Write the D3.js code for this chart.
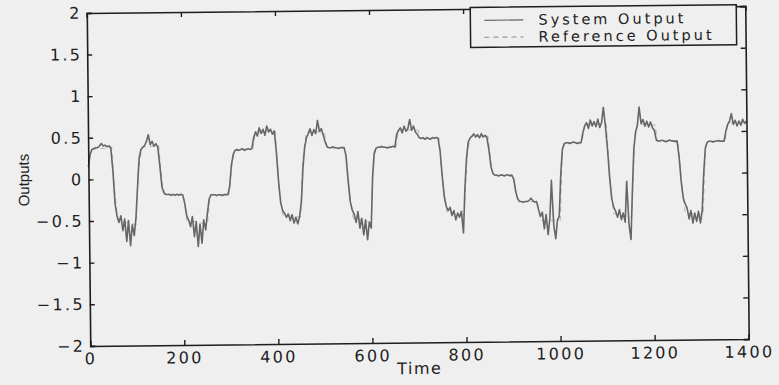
<!DOCTYPE html>
<html>
<head>
<meta charset="utf-8">
<script src="https://cdn.jsdelivr.net/npm/d3@7"></script>
<style>
  body { margin: 0; background: #efefef; }
  svg { display: block; }
  .tick text { font-family: "DejaVu Sans", sans-serif; font-size: 16px; letter-spacing: 2.3px; fill: #222; }
</style>
</head>
<body>
<div id="chart"></div>
<script>
// [time, output]
var systemOutput = [
  [0,0.15],[4,0.30],[8,0.36],[12,0.37],[16,0.38],[20,0.38],[24,0.40],[28,0.43],[32,0.40],[36,0.41],[40,0.39],[44,0.40],[48,0.38],
  [52,0.10],[56,-0.30],[60,-0.45],
  [64,-0.52],[68,-0.44],[72,-0.62],[76,-0.48],[80,-0.75],[84,-0.50],[88,-0.80],[92,-0.55],[96,-0.68],[100,-0.47],
  [104,-0.10],[108,0.25],[112,0.35],[116,0.38],[120,0.40],[124,0.45],[128,0.53],[132,0.41],[136,0.45],[140,0.39],[144,0.42],[148,0.38],
  [152,0.15],[156,-0.10],[160,-0.17],[164,-0.19],[168,-0.19],[172,-0.19],[176,-0.20],[180,-0.19],[184,-0.20],[188,-0.19],[192,-0.20],[196,-0.19],[200,-0.20],
  [204,-0.30],[208,-0.45],
  [212,-0.50],[216,-0.58],[220,-0.46],[224,-0.70],[228,-0.52],[232,-0.82],[236,-0.55],[240,-0.78],[244,-0.50],[248,-0.62],[252,-0.42],
  [256,-0.25],[260,-0.20],[264,-0.20],[268,-0.20],[272,-0.21],[276,-0.20],[280,-0.20],[284,-0.21],[288,-0.20],[292,-0.20],[296,-0.20],
  [300,-0.10],[304,0.15],[308,0.28],[312,0.33],[316,0.34],[320,0.33],[324,0.34],[328,0.35],[332,0.33],[336,0.34],[340,0.35],[344,0.34],[348,0.35],
  [352,0.48],[356,0.55],[360,0.50],[364,0.60],[368,0.53],[372,0.58],[376,0.51],[380,0.62],[384,0.55],[388,0.58],[392,0.52],[396,0.56],
  [400,0.30],[404,-0.05],[408,-0.30],[412,-0.40],
  [416,-0.43],[420,-0.48],[424,-0.44],[428,-0.52],[432,-0.45],[436,-0.55],[440,-0.48],[444,-0.56],[448,-0.47],
  [452,-0.30],[456,0.10],[460,0.35],[464,0.47],[468,0.52],[472,0.58],[476,0.50],[480,0.57],[484,0.52],[488,0.68],[492,0.55],[496,0.58],[500,0.50],
  [504,0.42],[508,0.36],[512,0.35],[516,0.35],[520,0.36],[524,0.35],[528,0.35],[532,0.34],[536,0.35],[540,0.35],[544,0.35],
  [548,0.25],[552,-0.05],[556,-0.30],[560,-0.40],
  [564,-0.45],[568,-0.55],[572,-0.42],[576,-0.62],[580,-0.50],[584,-0.70],[588,-0.52],[592,-0.76],[596,-0.55],[600,-0.62],
  [604,0.00],[608,0.28],[612,0.34],[616,0.35],[620,0.35],[624,0.36],[628,0.35],[632,0.35],[636,0.34],[640,0.35],[644,0.35],[648,0.36],[652,0.35],
  [656,0.50],[660,0.55],[664,0.58],[668,0.52],[672,0.60],[676,0.54],[680,0.57],[684,0.68],[688,0.55],[692,0.60],[696,0.53],[700,0.50],
  [704,0.46],[708,0.45],[712,0.46],[716,0.44],[720,0.46],[724,0.45],[728,0.44],[732,0.46],[736,0.45],[740,0.46],[744,0.45],
  [748,0.30],[752,0.00],[756,-0.25],[760,-0.37],
  [764,-0.42],[768,-0.38],[772,-0.48],[776,-0.42],[780,-0.53],[784,-0.45],[788,-0.50],[792,-0.43],[796,-0.69],
  [800,-0.15],[804,0.20],[808,0.40],[812,0.45],[816,0.47],[820,0.50],[824,0.46],[828,0.49],[832,0.45],[836,0.50],[840,0.46],[844,0.48],[848,0.45],
  [852,0.30],[856,0.10],[860,0.02],[864,0.00],[868,0.00],[872,-0.01],[876,0.00],[880,0.00],[884,-0.01],[888,0.00],[892,0.00],[896,-0.01],[900,0.00],
  [904,-0.05],[908,-0.20],[912,-0.29],[916,-0.32],[920,-0.32],[924,-0.33],[928,-0.32],[932,-0.32],[936,-0.31],[940,-0.28],[944,-0.31],[948,-0.33],[952,-0.32],
  [956,-0.42],[960,-0.50],
  [964,-0.45],[968,-0.65],[972,-0.48],[976,-0.72],[980,-0.52],[984,-0.07],[988,-0.60],[992,-0.77],[996,-0.55],[1000,-0.50],
  [1004,0.00],[1008,0.30],[1012,0.37],[1016,0.38],[1020,0.38],[1024,0.37],[1028,0.38],[1032,0.39],[1036,0.38],[1040,0.37],[1044,0.38],[1048,0.38],
  [1052,0.50],[1056,0.58],[1060,0.62],[1064,0.55],[1068,0.65],[1072,0.58],[1076,0.63],[1080,0.57],[1084,0.66],[1088,0.56],[1092,0.62],[1096,0.80],[1100,0.58],
  [1104,0.30],[1108,-0.05],[1112,-0.30],[1116,-0.40],
  [1120,-0.45],[1124,-0.52],[1128,-0.43],[1132,-0.55],[1136,-0.47],[1140,-0.58],[1144,-0.09],[1148,-0.60],[1152,-0.79],
  [1156,-0.20],[1160,0.30],[1164,0.50],[1168,0.58],[1172,0.80],[1176,0.60],[1180,0.65],[1184,0.57],[1188,0.63],[1192,0.56],[1196,0.62],[1200,0.55],[1204,0.52],
  [1208,0.40],[1212,0.39],[1216,0.39],[1220,0.40],[1224,0.39],[1228,0.38],[1232,0.39],[1236,0.40],[1240,0.39],[1244,0.39],[1248,0.38],[1252,0.39],
  [1256,0.20],[1260,-0.10],[1264,-0.30],[1268,-0.37],
  [1272,-0.42],[1276,-0.55],[1280,-0.45],[1284,-0.60],[1288,-0.48],[1292,-0.58],[1296,-0.46],[1300,-0.60],[1304,-0.45],
  [1308,0.00],[1312,0.30],[1316,0.37],[1320,0.38],[1324,0.38],[1328,0.37],[1332,0.38],[1336,0.38],[1340,0.39],[1344,0.38],[1348,0.38],[1352,0.38],
  [1356,0.50],[1360,0.58],[1364,0.62],[1368,0.71],[1372,0.58],[1376,0.63],[1380,0.56],[1384,0.62],[1388,0.57],[1392,0.64],[1396,0.59],[1400,0.62]
]

// the reference is the clean staircase hidden under the noisy output
var referenceOutput = [
  [0,0.15],[6,0.36],[50,0.38],[56,-0.2],[62,-0.5],[100,-0.55],[106,0.1],[114,0.38],[150,0.4],[156,-0.05],[162,-0.19],
  [202,-0.2],[208,-0.5],[252,-0.55],[258,-0.2],[298,-0.2],[306,0.2],[312,0.33],[350,0.35],[356,0.55],[398,0.55],
  [406,-0.2],[412,-0.45],[450,-0.48],[456,0.2],[464,0.54],[502,0.54],[508,0.36],[546,0.35],[554,-0.2],[562,-0.5],
  [600,-0.55],[606,0.2],[612,0.35],[654,0.35],[660,0.56],[702,0.55],[706,0.45],[746,0.45],[754,-0.2],[762,-0.45],
  [798,-0.47],[806,0.3],[814,0.47],[850,0.47],[858,0.05],[862,0],[902,0],[910,-0.25],[916,-0.32],[954,-0.32],
  [960,-0.55],[1002,-0.55],[1008,0.3],[1014,0.38],[1050,0.38],[1056,0.6],[1102,0.6],[1110,-0.2],[1116,-0.48],
  [1154,-0.52],[1162,0.4],[1168,0.6],[1206,0.58],[1210,0.39],[1254,0.39],[1262,-0.2],[1268,-0.48],[1306,-0.5],
  [1312,0.3],[1318,0.38],[1354,0.38],[1360,0.6],[1400,0.6]
]

var xTicks = [0, 200, 400, 600, 800, 1000, 1200, 1400]
var yTicks = [-2, -1.5, -1, -0.5, 0, 0.5, 1, 1.5, 2]
var legendLabels = ["System Output", "Reference Output"]

var width = 779, height = 385
var margin = {left: 88.5, right: 32, top: 9.5, bottom: 42.5}

var svg = d3.select("#chart")
    .append("svg")
    .attr("width", width)
    .attr("height", height)

// the scan is tilted a little, so tilt the whole figure
var fig = svg.append("g")
    .attr("transform", "rotate(-0.6, 417, 176)")

var x = d3.scaleLinear()
    .domain([0, 1400])
    .range([margin.left, width - margin.right])
var y = d3.scaleLinear()
    .domain([-2, 2])
    .range([height - margin.bottom, margin.top])

var fmt = (d) => {return (d < 0 ? "\u2212" : "") + Math.abs(d)}

var line = d3.line()
    .x((d) => {return x(d[0])})
    .y((d) => {return y(d[1])})

fig.append("path")
    .datum(referenceOutput)
    .attr("fill", "none")
    .attr("stroke", "#b4b4b4")
    .attr("stroke-width", 1)
    .attr("stroke-dasharray", "5,4")
    .attr("d", line)

fig.append("path")
    .datum(systemOutput)
    .attr("fill", "none")
    .attr("stroke", "#666")
    .attr("stroke-width", 1.6)
    .attr("stroke-linejoin", "round")
    .attr("d", line)

// box axes, MATLAB style ticks pointing in
fig.append("g")
    .attr("transform", "translate(0," + y(-2) + ")")
    .call(d3.axisBottom(x).tickValues(xTicks).tickFormat(fmt).tickSize(-5).tickPadding(7))
fig.append("g")
    .attr("transform", "translate(0," + y(2) + ")")
    .call(d3.axisTop(x).tickValues(xTicks).tickFormat("").tickSize(-5))
fig.append("g")
    .attr("transform", "translate(" + x(0) + ",0)")
    .call(d3.axisLeft(y).tickValues(yTicks).tickFormat(fmt).tickSize(-5).tickPadding(5))
fig.append("g")
    .attr("transform", "translate(" + x(1400) + ",0)")
    .call(d3.axisRight(y).tickValues(yTicks).tickFormat("").tickSize(-5))

fig.selectAll(".domain").attr("stroke", "#1e1e1e").attr("stroke-width", 1.6)
fig.selectAll(".tick line").attr("stroke", "#1e1e1e").attr("stroke-width", 1.4)

fig.append("text")
    .attr("x", x(700))
    .attr("y", height - 11)
    .attr("text-anchor", "middle")
    .attr("font-family", "DejaVu Sans, sans-serif")
    .attr("font-size", 16)
    .attr("letter-spacing", 1.5)
    .attr("fill", "#222")
    .text("Time")

fig.append("text")
    .attr("transform", "translate(29," + y(0) + ") rotate(-90)")
    .attr("text-anchor", "middle")
    .attr("font-family", "Liberation Sans Narrow, Liberation Sans, sans-serif")
    .attr("font-size", 15)
    .attr("fill", "#222")
    .text("Outputs")

// legend
var legend = fig.append("g")
    .attr("transform", "translate(472,8)")

legend.append("rect")
    .attr("width", 266)
    .attr("height", 40)
    .attr("fill", "#efefef")
    .attr("stroke", "#1e1e1e")
    .attr("stroke-width", 1.5)

legendLabels.map((label, i) => {
    legend.append("line")
        .attr("x1", 14)
        .attr("x2", 53)
        .attr("y1", 13 + i * 17)
        .attr("y2", 13 + i * 17)
        .attr("stroke", i === 0 ? "#666" : "#9a9a9a")
        .attr("stroke-width", 1.2)
        .attr("stroke-dasharray", i === 0 ? null : "5,4")
    legend.append("text")
        .attr("x", 68)
        .attr("y", 18 + i * 17)
        .attr("font-family", "DejaVu Sans, sans-serif")
        .attr("font-size", 14.5)
        .attr("letter-spacing", 3)
        .attr("fill", "#222")
        .text(label)
})
</script>
</body>
</html>
